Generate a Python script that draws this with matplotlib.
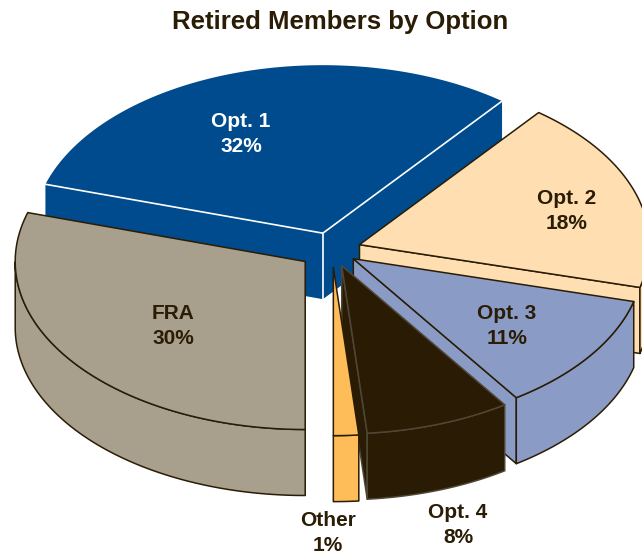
import numpy as np
import matplotlib
matplotlib.use('Agg')
import matplotlib.pyplot as plt

plt.rcParams['font.family'] = ['Liberation Sans', 'DejaVu Sans']

# Slices, clockwise from 6 o'clock
names = ['FRA', 'Opt. 1', 'Opt. 2', 'Opt. 3', 'Opt. 4', 'Other']
pct_labels = ['30%', '32%', '18%', '11%', '8%', '1%']
# slice sizes as measured on the drawn pie (the 3D view squeezes them a bit)
shares = [29.7, 30.9, 18.5, 11.4, 8.1, 1.4]
explode = [0.115, 0.105, 0.1, 0.09, 0.1, 0.105]
colors = ['#A89F8D', '#004B8D', '#FFDFB1', '#8A9BC6', '#291B04', '#FFBD59']
edges = ['#2A1C05', 'white', '#2A1C05', '#2A1C05', '#4F4635', '#2A1C05']
text_colors = ['#2A1C05', 'white', '#2A1C05', '#2A1C05', '#2A1C05', '#2A1C05']
label_pos = [(173, 326), (241, 134), (567, 211), (507, 326), (458, 525), (328, 533)]
draw_order = [1, 2, 0, 3, 4, 5]

# Pie geometry in pixels
cx, cy = 332, 250
rx, ry = 290, 168
depth = 66

fig = plt.figure(figsize=(6.42, 5.54), dpi=100)
ax = fig.add_axes([0, 0, 1, 1])
ax.set_xlim(0, 642)
ax.set_ylim(554, 0)
ax.axis('off')

ends = 180 + 360 * np.cumsum(shares) / np.sum(shares)
starts = ends - 360 * np.array(shares) / np.sum(shares)


def arc(vx, vy, t0, t1):
    t = np.radians(np.linspace(t0, t1, 120))
    return vx + rx * np.sin(t), vy - ry * np.cos(t)


def wall(x, y, fc, ec):
    # vertical face hanging below the line x, y
    xs = np.r_[x, x[::-1]]
    ys = np.r_[y, np.array(y)[::-1] + depth]
    ax.fill(xs, ys, facecolor=fc, edgecolor=ec, linewidth=1.1, joinstyle='round')


for i in draw_order:
    t0, t1 = starts[i], ends[i]
    mid = np.radians((t0 + t1) / 2)
    vx = cx + explode[i] * rx * np.sin(mid)
    vy = cy - explode[i] * ry * np.cos(mid)
    ax_, ay_ = arc(vx, vy, t0, t1)
    # Opt. 1 only has white lines on the cut edges, no outline
    ec = 'none' if i == 1 else edges[i]

    if np.sin(np.radians(t0)) < -0.01:
        wall([vx, ax_[0]], [vy, ay_[0]], colors[i], ec)
    if np.sin(np.radians(t1)) > 0.01:
        wall([vx, ax_[-1]], [vy, ay_[-1]], colors[i], ec)

    # outer rim, only the part that faces the front
    keep = np.cos(np.radians(np.linspace(t0, t1, 120))) < 0
    if keep.any():
        wall(ax_[keep], ay_[keep], colors[i], ec)

    ax.fill(np.r_[vx, ax_], np.r_[vy, ay_], facecolor=colors[i], edgecolor=ec,
            linewidth=1.1, joinstyle='round')

    if i == 1:
        ax.plot([ax_[0], vx, ax_[-1]], [ay_[0], vy, ay_[-1]], color='white', linewidth=1.2)
        ax.plot([vx, vx], [vy, vy + depth], color='white', linewidth=1.2)

for name, pct, pos, tc in zip(names, pct_labels, label_pos, text_colors):
    ax.text(pos[0], pos[1], name + '\n' + pct, color=tc, fontsize=15, fontweight='bold',
            ha='center', va='center', linespacing=1.4)

ax.text(340, 22, 'Retired Members by Option', color='#2A1C05', fontsize=18.5,
        fontweight='bold', ha='center', va='center')

fig.savefig('out.png', dpi=100)
